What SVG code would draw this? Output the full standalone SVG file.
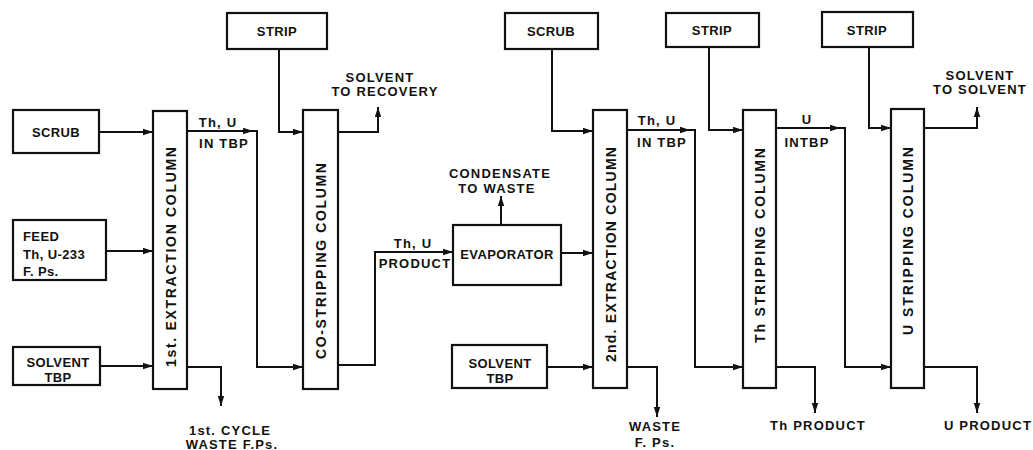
<svg xmlns="http://www.w3.org/2000/svg" width="1033" height="450" viewBox="0 0 1033 450">
<style>
.box{fill:#fff;stroke:#111;stroke-width:2.2}
.ln{fill:none;stroke:#111;stroke-width:2}
.t{font-family:"Liberation Sans",Arial,sans-serif;font-size:13px;font-weight:bold;fill:#111;letter-spacing:0.4px}
.l{letter-spacing:1.2px}
.c{text-anchor:middle}
.col{font-family:"Liberation Sans",Arial,sans-serif;font-size:14px;font-weight:bold;fill:#111}
</style>
<defs>
<marker id="ah" markerUnits="userSpaceOnUse" markerWidth="11" markerHeight="8" refX="10" refY="4" orient="auto">
<path d="M0,0.8 L10,4 L0,7.2 z" fill="#111"/>
</marker>
</defs>
<rect width="1033" height="450" fill="#fff"/>

<g id="connectors">
<path class="ln" marker-end="url(#ah)" d="M99,132 H153"/>
<path class="ln" marker-end="url(#ah)" d="M106,251 H153"/>
<path class="ln" marker-end="url(#ah)" d="M100,366 H153"/>
<path class="ln" marker-end="url(#ah)" d="M187,131 H253"/>
<path class="ln" marker-end="url(#ah)" d="M250,131 H257 V367 H303"/>
<path class="ln" marker-end="url(#ah)" d="M187,367 H221 V406"/>
<path class="ln" marker-end="url(#ah)" d="M279,49 V132 H303"/>
<path class="ln" marker-end="url(#ah)" d="M338,132 H378 V107"/>
<path class="ln" marker-end="url(#ah)" d="M338,365 H375 V252 H453"/>
<path class="ln" marker-end="url(#ah)" d="M552,49 V131 H593"/>
<path class="ln" marker-end="url(#ah)" d="M561,253 H593"/>
<path class="ln" marker-end="url(#ah)" d="M501,225 V196"/>
<path class="ln" marker-end="url(#ah)" d="M547,367 H593"/>
<path class="ln" marker-end="url(#ah)" d="M627,130 H690"/>
<path class="ln" marker-end="url(#ah)" d="M688,130 H695 V367 H743"/>
<path class="ln" marker-end="url(#ah)" d="M627,367 H657 V417"/>
<path class="ln" marker-end="url(#ah)" d="M709,47 V130 H743"/>
<path class="ln" marker-end="url(#ah)" d="M776,128 H840"/>
<path class="ln" marker-end="url(#ah)" d="M838,128 H845 V367 H891"/>
<path class="ln" marker-end="url(#ah)" d="M776,367 H815 V413"/>
<path class="ln" marker-end="url(#ah)" d="M869,47 V128 H891"/>
<path class="ln" marker-end="url(#ah)" d="M924,128 H977 V107"/>
<path class="ln" marker-end="url(#ah)" d="M924,367 H977 V413"/>
</g>

<g id="labels">
<text class="t l c" x="218" y="127">Th, U</text>
<text class="t l c" x="224" y="148">IN TBP</text>
<text class="t l c" x="230" y="435">1st. CYCLE</text>
<text class="t l c" x="232" y="449">WASTE F.Ps.</text>
<text class="t l c" x="380" y="82">SOLVENT</text>
<text class="t l c" x="385" y="96">TO RECOVERY</text>
<text class="t l c" x="413" y="248">Th, U</text>
<text class="t l c" x="415" y="268">PRODUCT</text>
<text class="t l c" x="500" y="178">CONDENSATE</text>
<text class="t l c" x="497" y="193">TO WASTE</text>
<text class="t l c" x="657" y="125">Th, U</text>
<text class="t l c" x="662" y="147">IN TBP</text>
<text class="t l c" x="655" y="431">WASTE</text>
<text class="t l c" x="655" y="447">F. Ps.</text>
<text class="t l c" x="807" y="124">U</text>
<text class="t l c" x="807" y="147">INTBP</text>
<text class="t l c" x="818" y="430">Th PRODUCT</text>
<text class="t l c" x="980" y="80">SOLVENT</text>
<text class="t l c" x="980" y="94">TO SOLVENT</text>
<text class="t l c" x="988" y="430">U PRODUCT</text>
</g>

<g id="scrub1"><rect class="box" x="13" y="110" width="86" height="43"/><text class="t c" x="56" y="137">SCRUB</text></g>
<g id="feed"><rect class="box" x="13" y="220" width="93" height="60"/>
<text class="t" x="23" y="241">FEED</text><text class="t" x="23" y="259">Th, U-233</text><text class="t" x="23" y="276">F. Ps.</text></g>
<g id="solvent1"><rect class="box" x="13" y="347" width="87" height="38"/><text class="t c" x="58" y="367">SOLVENT</text><text class="t c" x="58" y="382">TBP</text></g>
<g id="strip1"><rect class="box" x="227" y="13" width="100" height="36"/><text class="t c" x="277" y="36">STRIP</text></g>
<g id="scrub2"><rect class="box" x="505" y="13" width="93" height="36"/><text class="t c" x="551" y="36">SCRUB</text></g>
<g id="strip2"><rect class="box" x="666" y="13" width="93" height="34"/><text class="t c" x="712" y="35">STRIP</text></g>
<g id="strip3"><rect class="box" x="822" y="12" width="91" height="35"/><text class="t c" x="867" y="35">STRIP</text></g>
<g id="evaporator"><rect class="box" x="453" y="225" width="108" height="60"/><text class="t c" x="507" y="259">EVAPORATOR</text></g>
<g id="solvent2"><rect class="box" x="452" y="345" width="95" height="43"/><text class="t c" x="500" y="368">SOLVENT</text><text class="t c" x="500" y="383">TBP</text></g>

<g id="col1"><rect class="box" x="153" y="111" width="34" height="278"/>
<text class="col" transform="translate(176,367) rotate(-90)" textLength="220" lengthAdjust="spacing">1st.  EXTRACTION  COLUMN</text></g>
<g id="col2"><rect class="box" x="303" y="110" width="35" height="279"/>
<text class="col" transform="translate(326,359) rotate(-90)" textLength="196" lengthAdjust="spacing">CO-STRIPPING  COLUMN</text></g>
<g id="col3"><rect class="box" x="593" y="110" width="34" height="278"/>
<text class="col" transform="translate(616,362) rotate(-90)" textLength="215" lengthAdjust="spacing">2nd.  EXTRACTION  COLUMN</text></g>
<g id="col4"><rect class="box" x="743" y="110" width="33" height="278"/>
<text class="col" transform="translate(765,343) rotate(-90)" textLength="195" lengthAdjust="spacing">Th  STRIPPING  COLUMN</text></g>
<g id="col5"><rect class="box" x="891" y="109" width="33" height="279"/>
<text class="col" transform="translate(913,335) rotate(-90)" textLength="188" lengthAdjust="spacing">U  STRIPPING  COLUMN</text></g>
</svg>
